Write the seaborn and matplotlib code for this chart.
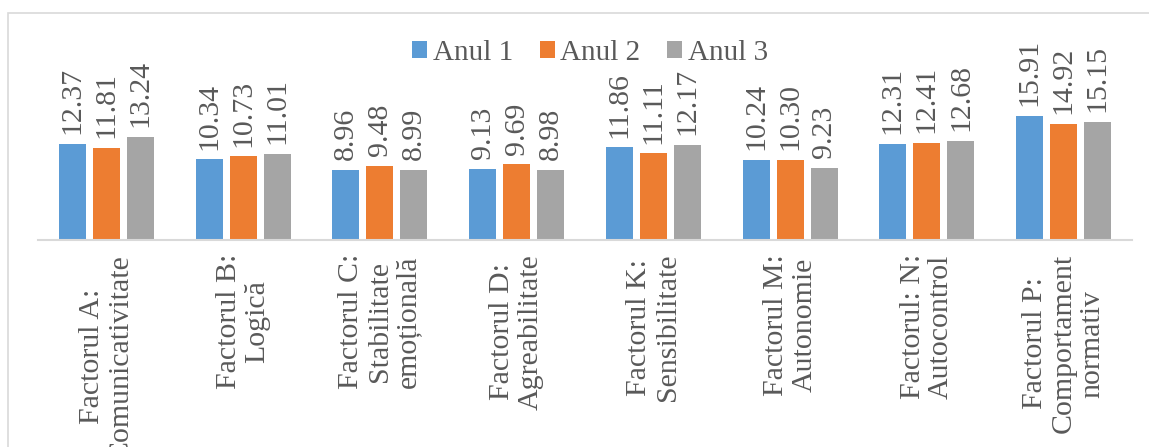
import matplotlib
matplotlib.use("Agg")
import matplotlib.pyplot as plt
import seaborn as sns
import pandas as pd
from matplotlib.patches import Rectangle

categories = [
    "Factorul A:\nComunicativitate",
    "Factorul B:\nLogică",
    "Factorul C:\nStabilitate\nemoțională",
    "Factorul D:\nAgreabilitate",
    "Factorul K:\nSensibilitate",
    "Factorul M:\nAutonomie",
    "Factorul: N:\nAutocontrol",
    "Factorul P:\nComportament\nnormativ",
]
series_names = ["Anul 1", "Anul 2", "Anul 3"]
anul1 = [12.37, 10.34, 8.96, 9.13, 11.86, 10.24, 12.31, 15.91]
anul2 = [11.81, 10.73, 9.48, 9.69, 11.11, 10.30, 12.41, 14.92]
anul3 = [13.24, 11.01, 8.99, 8.98, 12.17, 9.23, 12.68, 15.15]
colors = ["#5B9BD5", "#ED7D31", "#A5A5A5"]

rows = []
for name, vals in zip(series_names, [anul1, anul2, anul3]):
    for c, v in zip(categories, vals):
        rows.append({"Factor": c, "Anul": name, "Valoare": v})
df = pd.DataFrame(rows)

sns.set_style("white")
plt.rcParams["font.family"] = ["Liberation Serif", "DejaVu Serif"]
text_color = "#595959"

W, H = 1149, 447
fig = plt.figure(figsize=(W / 100, H / 100), dpi=100)
ax = fig.add_axes([38 / W, 1 - 240 / H, (1132 - 38) / W, 180 / H])

sns.barplot(data=df, x="Factor", y="Valoare", hue="Anul", order=categories,
            hue_order=series_names, palette=colors, width=0.746, gap=0.2,
            saturation=1, ax=ax, legend=False, edgecolor="none", linewidth=0)

ax.set_ylim(0, 180 / 7.8)
ax.set_xlim(-0.5, len(categories) - 0.5)
ax.set_xlabel("")
ax.set_ylabel("")
ax.set_yticks([])
for s in ["top", "right", "left"]:
    ax.spines[s].set_visible(False)
ax.spines["bottom"].set_color("#D9D9D9")
ax.spines["bottom"].set_linewidth(1.5)

ax.tick_params(axis="x", length=0, pad=10, labelsize=21.5, labelcolor=text_color)
for lbl in ax.get_xticklabels():
    lbl.set_rotation(90)
    lbl.set_ha("center")
    lbl.set_va("top")
    lbl.set_multialignment("center")
    lbl.set_linespacing(1.12)

for cont in ax.containers:
    ax.bar_label(cont, fmt="%.2f", rotation=90, padding=7, fontsize=21.5,
                 color=text_color)

handles = [Rectangle((0, 0), 1, 1, facecolor=c, edgecolor="none") for c in colors]
fig.legend(handles, series_names, loc="center", bbox_to_anchor=(590 / W, 1 - 53 / H),
           ncol=3, frameon=False, fontsize=21, labelcolor=text_color,
           handlelength=0.51, handleheight=0.51, handletextpad=0.2,
           columnspacing=0.92, borderpad=0, borderaxespad=0)

# outer chart frame (cropped on the right and bottom)
fig.patches.append(Rectangle((8 / W, -0.1), 1.2, 1 - 13 / H + 0.1,
                             transform=fig.transFigure, fill=False,
                             edgecolor="#D9D9D9", linewidth=1.2))

fig.savefig("out.png", dpi=100)
